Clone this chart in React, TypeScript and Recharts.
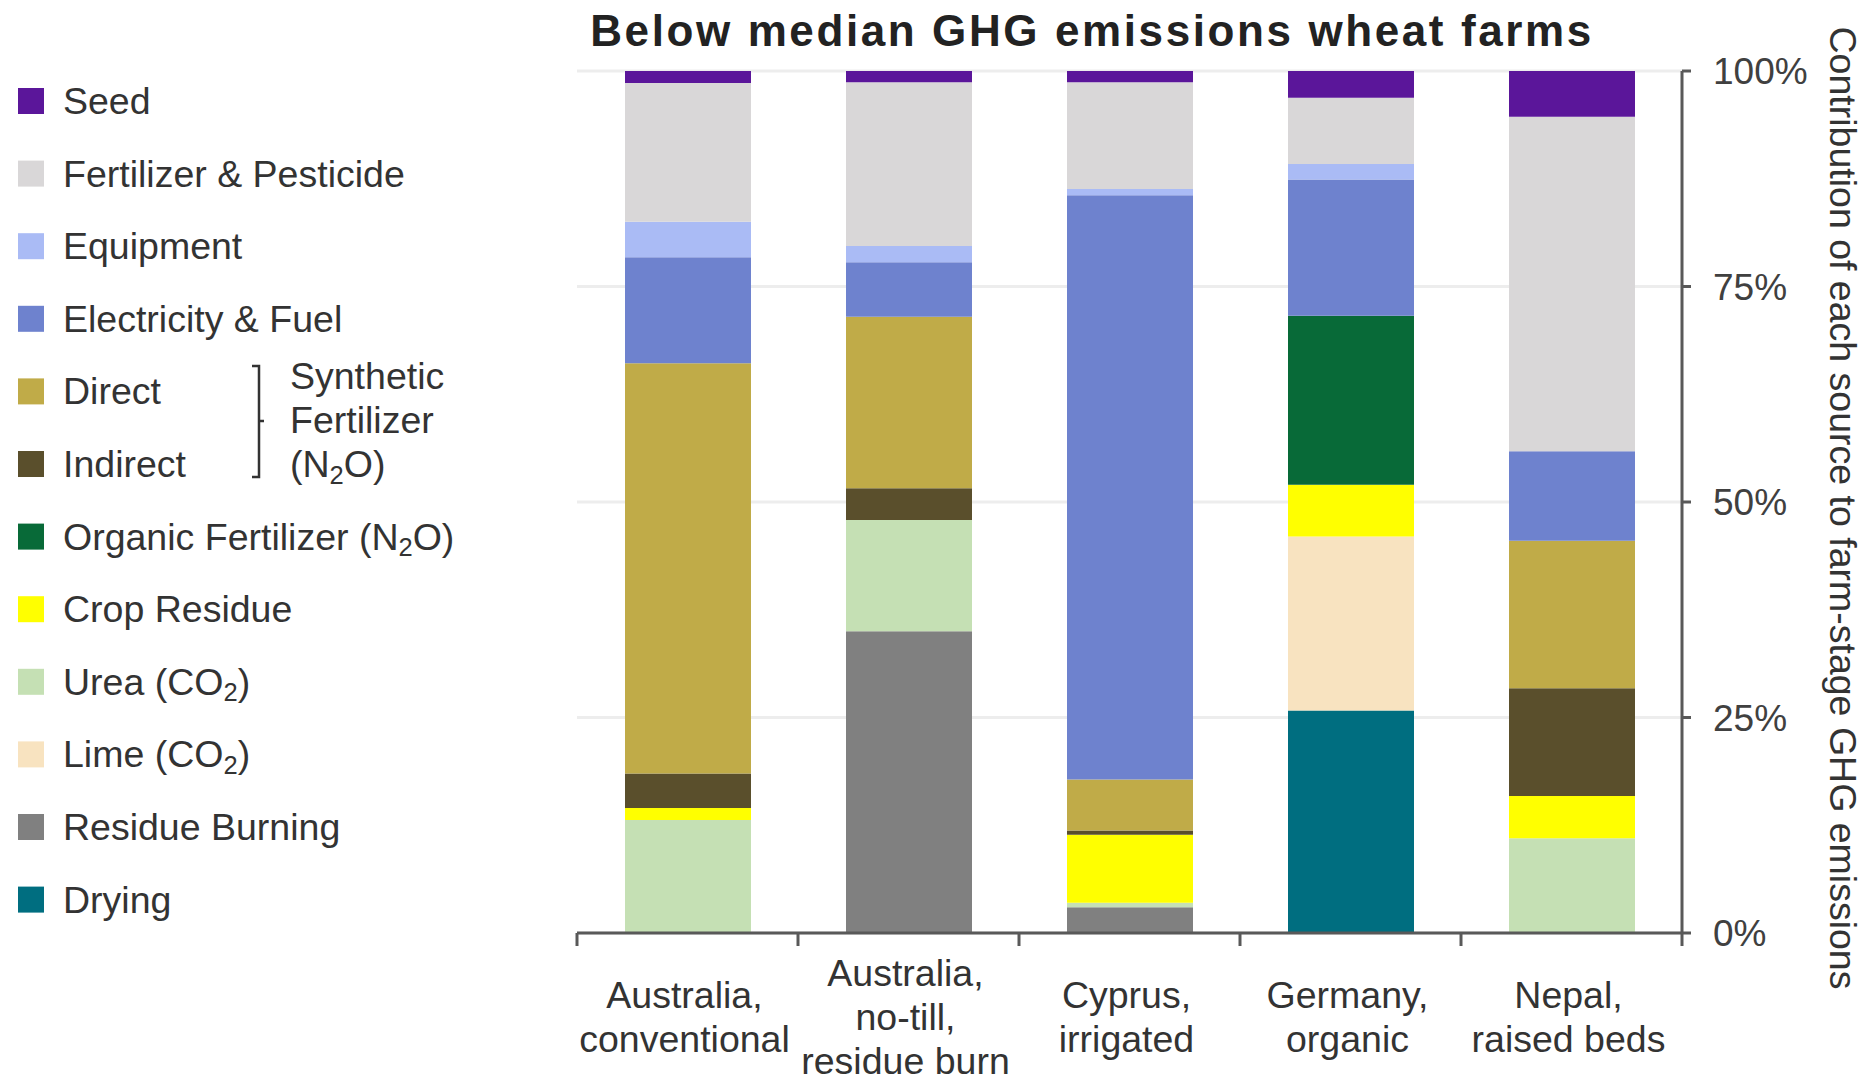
import React from "react";
import { BarChart, Bar, XAxis, YAxis, CartesianGrid } from "recharts";

const FONT = '"Liberation Sans", Arial, Helvetica, sans-serif';
const AXIS_COLOR = "#595959";
const TEXT_COLOR = "#333333";
const FONT_SIZE = 37.5;

const categories = [
    "Australia,\nconventional",
    "Australia,\nno-till,\nresidue burn",
    "Cyprus,\nirrigated",
    "Germany,\norganic",
    "Nepal,\nraised beds",
];

// shares of farm-stage emissions (%), one value per category
const drying = [0, 0, 0, 25.8, 0];
const residueBurning = [0, 35.0, 3.0, 0, 0];
const lime = [0, 0, 0, 20.2, 0];
const urea = [13.1, 12.9, 0.5, 0, 11.0];
const cropResidue = [1.4, 0, 7.9, 6.0, 4.9];
const organicFertilizer = [0, 0, 0, 19.6, 0];
const indirect = [4.0, 3.7, 0.5, 0, 12.5];
const direct = [47.6, 19.9, 5.9, 0, 17.1];
const electricityFuel = [12.3, 6.3, 67.8, 15.8, 10.4];
const equipment = [4.1, 1.9, 0.7, 1.8, 0];
const fertilizerPesticide = [16.1, 19.0, 12.4, 7.7, 38.8];
const seed = [1.4, 1.3, 1.3, 3.1, 5.3];

const yTicks = [0, 25, 50, 75, 100];

// stacking order, bottom to top
const series: { key: string; name: string; color: string; values: number[] }[] = [
    { key: "drying", name: "Drying", color: "#006E80", values: drying },
    { key: "residueBurning", name: "Residue Burning", color: "#808080", values: residueBurning },
    { key: "lime", name: "Lime (CO₂)", color: "#F8E3C0", values: lime },
    { key: "urea", name: "Urea (CO₂)", color: "#C5E0B4", values: urea },
    { key: "cropResidue", name: "Crop Residue", color: "#FFFF00", values: cropResidue },
    { key: "organicFertilizer", name: "Organic Fertilizer (N₂O)", color: "#086A38", values: organicFertilizer },
    { key: "indirect", name: "Indirect", color: "#5A4F2C", values: indirect },
    { key: "direct", name: "Direct", color: "#C0AB48", values: direct },
    { key: "electricityFuel", name: "Electricity & Fuel", color: "#6E82CE", values: electricityFuel },
    { key: "equipment", name: "Equipment", color: "#AABBF5", values: equipment },
    { key: "fertilizerPesticide", name: "Fertilizer & Pesticide", color: "#D9D7D8", values: fertilizerPesticide },
    { key: "seed", name: "Seed", color: "#5B169A", values: seed },
];

const data = categories.map((name, i) => {
    const row: Record<string, string | number> = { name };
    series.forEach((s) => {
        row[s.key] = s.values[i];
    });
    return row;
});

// text with "₂" drawn as a lowered small 2
const LegendRowText = ({ text, x, y }: { text: string; x: number; y: number }) => {
    const size = FONT_SIZE;
    const parts = text.split("₂");
    return (
        <text x={x} y={y} fontSize={size} fill={TEXT_COLOR} dominantBaseline="central" fontFamily={FONT}>
            {parts.map((p, i) => (
                <React.Fragment key={i}>
                    {i > 0 && (
                        <tspan fontSize={size * 0.68} dy={size * 0.28}>
                            2
                        </tspan>
                    )}
                    <tspan dy={i > 0 ? -size * 0.28 : 0}>{p}</tspan>
                </React.Fragment>
            ))}
        </text>
    );
};

const ChartLegend = () => {
    const rows = [...series].reverse();
    const top = 101;
    const step = 72.6;
    return (
        <svg
            width={480}
            height={1000}
            style={{ position: "absolute", left: 0, top: 0 }}
        >
            {rows.map((s, i) => (
                <g key={s.key}>
                    <rect x={18} y={top + i * step - 13} width={26} height={26} fill={s.color} />
                    <LegendRowText text={s.name} x={63} y={top + i * step} />
                </g>
            ))}
            <path
                d={`M252 366 H259 V477 H252 M259 421 H264`}
                stroke={TEXT_COLOR}
                strokeWidth={2.5}
                fill="none"
            />
            <LegendRowText text="Synthetic" x={290} y={376} />
            <LegendRowText text="Fertilizer" x={290} y={420} />
            <LegendRowText text="(N₂O)" x={290} y={464} />
        </svg>
    );
};

const CategoryTick = (props: any) => {
    const { x, y, payload, index, width, visibleTicksCount } = props;
    let band = Number(width) / Number(visibleTicksCount);
    if (!isFinite(band) || band <= 0) band = 221;
    const lines = String(payload.value).split("\n");
    const first = 84 - (lines.length - 1) * 22;
    return (
        <g>
            <line x1={x - band / 2} x2={x - band / 2} y1={y} y2={y + 13} stroke={AXIS_COLOR} strokeWidth={3} />
            {index === visibleTicksCount - 1 && (
                <line x1={x + band / 2} x2={x + band / 2} y1={y} y2={y + 13} stroke={AXIS_COLOR} strokeWidth={3} />
            )}
            {lines.map((line, i) => (
                <text
                    key={i}
                    x={x - 3}
                    y={y + first + i * 44}
                    textAnchor="middle"
                    dominantBaseline="central"
                    fontSize={FONT_SIZE}
                    fontFamily={FONT}
                    fill={TEXT_COLOR}
                >
                    {line}
                </text>
            ))}
        </g>
    );
};

const YLabel = (props: any) => {
    const vb = props.viewBox || {};
    const x = (vb.x ?? 1682) + 161;
    const y = (vb.y ?? 71) + (vb.height ?? 862) / 2 + 6;
    return (
        <text
            x={x}
            y={y}
            transform={`rotate(90, ${x}, ${y})`}
            textAnchor="middle"
            dominantBaseline="central"
            fontSize={FONT_SIZE}
            fontFamily={FONT}
            fill={TEXT_COLOR}
        >
            Contribution of each source to farm-stage GHG emissions
        </text>
    );
};

const App = () => {
    return (
        <div
            style={{
                position: "absolute",
                left: 0,
                top: 0,
                width: 1867,
                height: 1081,
                background: "#ffffff",
                fontFamily: FONT,
            }}
        >
            <div
                style={{
                    position: "absolute",
                    left: 542,
                    width: 1100,
                    top: 6,
                    textAlign: "center",
                    fontSize: 44,
                    fontWeight: "bold",
                    letterSpacing: 2.6,
                    color: "#222222",
                    whiteSpace: "nowrap",
                }}
            >
                Below median GHG emissions wheat farms
            </div>

            <ChartLegend />

            <div style={{ position: "absolute", left: 0, top: 0 }}>
                <BarChart
                    width={1867}
                    height={1081}
                    data={data}
                    margin={{ top: 71, right: 0, bottom: 48, left: 577 }}
                    barSize={126}
                >
                    <CartesianGrid
                        vertical={false}
                        stroke="#EDEDED"
                        strokeWidth={3}
                    />
                    <XAxis
                        dataKey="name"
                        type="category"
                        height={100}
                        interval={0}
                        tickLine={false}
                        tickSize={0}
                        tickMargin={0}
                        axisLine={{ stroke: AXIS_COLOR, strokeWidth: 3 }}
                        tick={<CategoryTick />}
                    />
                    <YAxis
                        orientation="right"
                        type="number"
                        width={185}
                        domain={[0, 100]}
                        ticks={yTicks}
                        allowDataOverflow
                        interval={0}
                        tickSize={9}
                        tickMargin={22}
                        axisLine={{ stroke: AXIS_COLOR, strokeWidth: 3 }}
                        tickLine={{ stroke: AXIS_COLOR, strokeWidth: 3 }}
                        tick={{ fontSize: 37, fill: "#404040", fontFamily: FONT }}
                        tickFormatter={(v: number) => `${v}%`}
                        label={<YLabel />}
                    />
                    {series.map((s) => (
                        <Bar
                            key={s.key}
                            dataKey={s.key}
                            name={s.name}
                            stackId="a"
                            fill={s.color}
                            isAnimationActive={false}
                        />
                    ))}
                </BarChart>
            </div>
        </div>
    );
};

export default App;
